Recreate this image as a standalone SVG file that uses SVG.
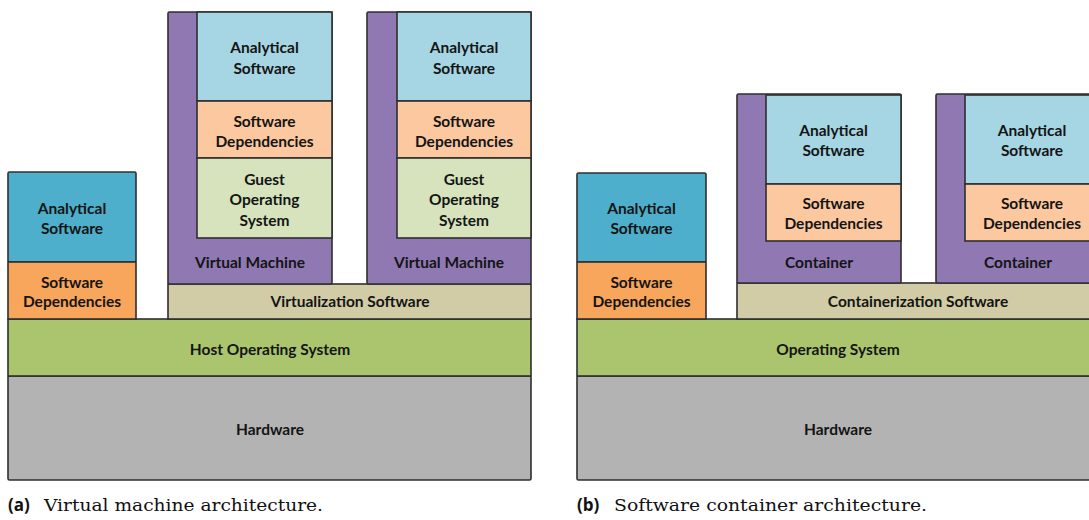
<svg xmlns="http://www.w3.org/2000/svg" width="1089" height="520" viewBox="0 0 1089 520">
  <style>
    .box { stroke: #2f2f2f; stroke-width: 1.6; }
    .lbl { font-family: Lato, "Open Sans", "Liberation Sans", sans-serif; font-weight: 700; font-size: 15.5px; fill: #141414; text-anchor: middle; }
    .cap-tag { font-family: "Open Sans", "Liberation Sans", sans-serif; font-weight: 700; font-size: 17px; fill: #111; }
    .cap { font-family: "DejaVu Serif", "Liberation Serif", serif; font-size: 17px; fill: #111; }
    .app { fill: #4dafcb; }
    .app-in { fill: #a6d6e3; }
    .dep { fill: #f8a65c; }
    .dep-in { fill: #fbc8a0; }
    .guest { fill: #d6e3bd; }
    .shell { fill: #9079b3; }
    .virt { fill: #d1cca6; }
    .os { fill: #aac56d; }
    .hw { fill: #b3b3b3; }
  </style>
  <rect width="1089" height="520" fill="#ffffff"/>

  <!-- (a) Virtual machine architecture -->
  <g id="a-hardware">
    <rect class="box hw" x="8" y="376" width="523" height="104" rx="1.5"/>
    <text class="lbl" x="270" y="435">Hardware</text>
  </g>
  <g id="a-host-os">
    <rect class="box os" x="8" y="319" width="523" height="57"/>
    <text class="lbl" x="270" y="355">Host Operating System</text>
  </g>
  <g id="a-virtualization">
    <rect class="box virt" x="168" y="284" width="363" height="35"/>
    <text class="lbl" x="350" y="307">Virtualization Software</text>
  </g>
  <g id="a-native-stack">
    <rect class="box app" x="8" y="172" width="128" height="90" rx="1.5"/>
    <text class="lbl" x="72" y="214">Analytical</text>
    <text class="lbl" x="72" y="234">Software</text>
    <rect class="box dep" x="8" y="262" width="128" height="57"/>
    <text class="lbl" x="72" y="288">Software</text>
    <text class="lbl" x="72" y="307">Dependencies</text>
  </g>
  <g id="a-vm-1">
    <rect class="box shell" x="168" y="12" width="164" height="272" rx="1.5"/>
    <text class="lbl" x="250" y="268">Virtual Machine</text>
    <rect class="box app-in" x="197" y="12" width="135" height="89"/>
    <text class="lbl" x="264.5" y="53">Analytical</text>
    <text class="lbl" x="264.5" y="74">Software</text>
    <rect class="box dep-in" x="197" y="101" width="135" height="57"/>
    <text class="lbl" x="264.5" y="127">Software</text>
    <text class="lbl" x="264.5" y="147">Dependencies</text>
    <rect class="box guest" x="197" y="158" width="135" height="80"/>
    <text class="lbl" x="264.5" y="185">Guest</text>
    <text class="lbl" x="264.5" y="205">Operating</text>
    <text class="lbl" x="264.5" y="226">System</text>
  </g>
  <g id="a-vm-2">
    <rect class="box shell" x="367" y="12" width="164" height="272" rx="1.5"/>
    <text class="lbl" x="449" y="268">Virtual Machine</text>
    <rect class="box app-in" x="397" y="12" width="134" height="89"/>
    <text class="lbl" x="464" y="53">Analytical</text>
    <text class="lbl" x="464" y="74">Software</text>
    <rect class="box dep-in" x="397" y="101" width="134" height="57"/>
    <text class="lbl" x="464" y="127">Software</text>
    <text class="lbl" x="464" y="147">Dependencies</text>
    <rect class="box guest" x="397" y="158" width="134" height="80"/>
    <text class="lbl" x="464" y="185">Guest</text>
    <text class="lbl" x="464" y="205">Operating</text>
    <text class="lbl" x="464" y="226">System</text>
  </g>
  <g id="a-caption">
    <text x="8" y="511"><tspan class="cap-tag">(a)</tspan></text>
    <text class="cap" x="44" y="511" textLength="279" lengthAdjust="spacingAndGlyphs">Virtual machine architecture.</text>
  </g>

  <!-- (b) Software container architecture -->
  <g id="b-hardware">
    <rect class="box hw" x="577" y="376" width="530" height="104" rx="1.5"/>
    <text class="lbl" x="838" y="435">Hardware</text>
  </g>
  <g id="b-os">
    <rect class="box os" x="577" y="319" width="530" height="57"/>
    <text class="lbl" x="838" y="355">Operating System</text>
  </g>
  <g id="b-containerization">
    <rect class="box virt" x="737" y="283" width="370" height="36"/>
    <text class="lbl" x="918" y="307">Containerization Software</text>
  </g>
  <g id="b-native-stack">
    <rect class="box app" x="577" y="173" width="129" height="89" rx="1.5"/>
    <text class="lbl" x="641.5" y="214">Analytical</text>
    <text class="lbl" x="641.5" y="234">Software</text>
    <rect class="box dep" x="577" y="262" width="129" height="57"/>
    <text class="lbl" x="641.5" y="288">Software</text>
    <text class="lbl" x="641.5" y="307">Dependencies</text>
  </g>
  <g id="b-container-1">
    <rect class="box shell" x="737" y="94" width="164" height="189" rx="1.5"/>
    <text class="lbl" x="819" y="268">Container</text>
    <rect class="box app-in" x="766" y="95" width="135" height="89"/>
    <text class="lbl" x="833.5" y="136">Analytical</text>
    <text class="lbl" x="833.5" y="156">Software</text>
    <rect class="box dep-in" x="766" y="184" width="135" height="57"/>
    <text class="lbl" x="833.5" y="209">Software</text>
    <text class="lbl" x="833.5" y="229">Dependencies</text>
  </g>
  <g id="b-container-2">
    <rect class="box shell" x="936" y="94" width="170" height="189" rx="1.5"/>
    <text class="lbl" x="1018" y="268">Container</text>
    <rect class="box app-in" x="965" y="95" width="141" height="89"/>
    <text class="lbl" x="1032" y="136">Analytical</text>
    <text class="lbl" x="1032" y="156">Software</text>
    <rect class="box dep-in" x="965" y="184" width="141" height="57"/>
    <text class="lbl" x="1032" y="209">Software</text>
    <text class="lbl" x="1032" y="229">Dependencies</text>
  </g>
  <g id="b-caption">
    <text x="577" y="511"><tspan class="cap-tag">(b)</tspan></text>
    <text class="cap" x="614" y="511" textLength="313" lengthAdjust="spacingAndGlyphs">Software container architecture.</text>
  </g>
</svg>
